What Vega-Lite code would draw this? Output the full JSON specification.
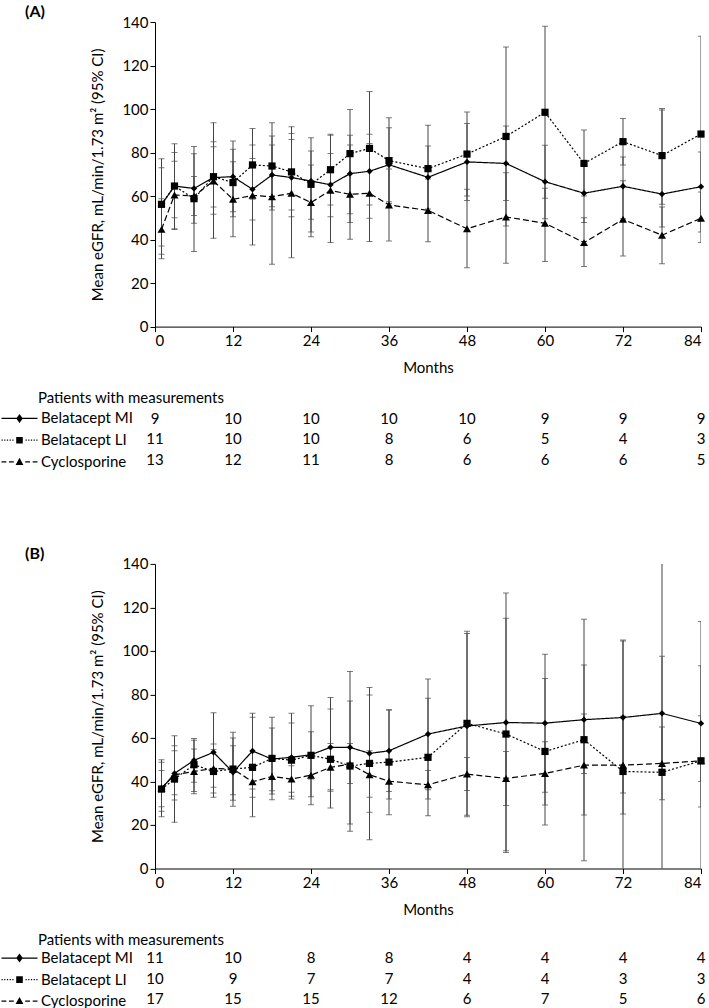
{
  "$schema": "https://vega.github.io/schema/vega-lite/v6.json",
  "autosize": {"type": "pad"},
  "padding": {"left": 12, "top": 4, "right": 0, "bottom": 0},
  "background": "white",
  "config": {
    "view": {"stroke": null},
    "font": "Lato",
    "axis": {"labelFont": "Lato", "titleFont": "Lato", "labelFontSize": 15, "titleFontSize": 15, "labelColor": "black", "titleColor": "black", "domainColor": "black", "tickColor": "black", "grid": false, "titleFontWeight": "normal", "tickSize": 5, "labelPadding": 2},
    "title": {"font": "Lato", "color": "black"},
    "legend": {"symbolFillColor": "black", "symbolStrokeColor": "black", "symbolStrokeWidth": 0, "symbolOpacity": 1}
  },
  "datasets": {
    "eg": [
      {"panel":"A","series":"Belatacept MI","month":1,"mean":56.0,"lo":33.2,"hi":73.0},
      {"panel":"A","series":"Belatacept LI","month":1,"mean":56.2,"lo":37.1,"hi":77.2},
      {"panel":"A","series":"Cyclosporine","month":1,"mean":44.7,"lo":31.2,"hi":58.8},
      {"panel":"A","series":"Belatacept MI","month":3,"mean":64.6,"lo":44.6,"hi":80.0},
      {"panel":"A","series":"Belatacept LI","month":3,"mean":64.6,"lo":45.0,"hi":84.0},
      {"panel":"A","series":"Cyclosporine","month":3,"mean":60.5,"lo":50.0,"hi":76.0},
      {"panel":"A","series":"Belatacept MI","month":6,"mean":63.5,"lo":47.5,"hi":79.5},
      {"panel":"A","series":"Belatacept LI","month":6,"mean":58.8,"lo":34.5,"hi":82.8},
      {"panel":"A","series":"Cyclosporine","month":6,"mean":60.0,"lo":51.1,"hi":69.0},
      {"panel":"A","series":"Belatacept MI","month":9,"mean":68.5,"lo":40.6,"hi":93.7},
      {"panel":"A","series":"Belatacept LI","month":9,"mean":68.9,"lo":51.6,"hi":85.0},
      {"panel":"A","series":"Cyclosporine","month":9,"mean":66.9,"lo":55.0,"hi":82.7},
      {"panel":"A","series":"Belatacept MI","month":12,"mean":68.9,"lo":52.8,"hi":85.3},
      {"panel":"A","series":"Belatacept LI","month":12,"mean":66.2,"lo":50.5,"hi":81.5},
      {"panel":"A","series":"Cyclosporine","month":12,"mean":58.5,"lo":41.3,"hi":75.8},
      {"panel":"A","series":"Belatacept MI","month":15,"mean":63.1,"lo":37.5,"hi":91.0},
      {"panel":"A","series":"Belatacept LI","month":15,"mean":74.3,"lo":58.5,"hi":83.5},
      {"panel":"A","series":"Cyclosporine","month":15,"mean":60.3,"lo":49.0,"hi":77.3},
      {"panel":"A","series":"Belatacept MI","month":18,"mean":69.7,"lo":53.6,"hi":87.6},
      {"panel":"A","series":"Belatacept LI","month":18,"mean":73.8,"lo":55.1,"hi":93.7},
      {"panel":"A","series":"Cyclosporine","month":18,"mean":59.7,"lo":28.6,"hi":83.5},
      {"panel":"A","series":"Belatacept MI","month":21,"mean":68.5,"lo":50.5,"hi":91.9},
      {"panel":"A","series":"Belatacept LI","month":21,"mean":71.1,"lo":53.6,"hi":88.7},
      {"panel":"A","series":"Cyclosporine","month":21,"mean":61.3,"lo":31.7,"hi":86.0},
      {"panel":"A","series":"Belatacept MI","month":24,"mean":66.9,"lo":43.5,"hi":86.8},
      {"panel":"A","series":"Belatacept LI","month":24,"mean":65.4,"lo":49.3,"hi":80.7},
      {"panel":"A","series":"Cyclosporine","month":24,"mean":57.0,"lo":41.3,"hi":74.3},
      {"panel":"A","series":"Belatacept MI","month":27,"mean":65.2,"lo":38.6,"hi":87.9},
      {"panel":"A","series":"Belatacept LI","month":27,"mean":72.1,"lo":55.9,"hi":88.4},
      {"panel":"A","series":"Cyclosporine","month":27,"mean":62.6,"lo":50.5,"hi":79.6},
      {"panel":"A","series":"Belatacept MI","month":30,"mean":70.3,"lo":51.9,"hi":87.9},
      {"panel":"A","series":"Belatacept LI","month":30,"mean":79.5,"lo":47.8,"hi":99.8},
      {"panel":"A","series":"Cyclosporine","month":30,"mean":60.8,"lo":40.1,"hi":83.5},
      {"panel":"A","series":"Belatacept MI","month":33,"mean":71.4,"lo":49.8,"hi":88.4},
      {"panel":"A","series":"Belatacept LI","month":33,"mean":81.9,"lo":55.9,"hi":108.0},
      {"panel":"A","series":"Cyclosporine","month":33,"mean":61.3,"lo":39.1,"hi":84.2},
      {"panel":"A","series":"Belatacept MI","month":36,"mean":74.4,"lo":57.4,"hi":91.4},
      {"panel":"A","series":"Belatacept LI","month":36,"mean":76.3,"lo":56.6,"hi":96.0},
      {"panel":"A","series":"Cyclosporine","month":36,"mean":55.9,"lo":39.4,"hi":72.4},
      {"panel":"A","series":"Belatacept MI","month":42,"mean":68.6,"lo":54.0,"hi":83.0},
      {"panel":"A","series":"Belatacept LI","month":42,"mean":72.6,"lo":52.6,"hi":92.6},
      {"panel":"A","series":"Cyclosporine","month":42,"mean":53.4,"lo":39.0,"hi":67.8},
      {"panel":"A","series":"Belatacept MI","month":48,"mean":75.7,"lo":58.0,"hi":93.4},
      {"panel":"A","series":"Belatacept LI","month":48,"mean":79.3,"lo":60.0,"hi":98.6},
      {"panel":"A","series":"Cyclosporine","month":48,"mean":45.0,"lo":27.1,"hi":63.1},
      {"panel":"A","series":"Belatacept MI","month":54,"mean":75.0,"lo":58.0,"hi":92.2},
      {"panel":"A","series":"Belatacept LI","month":54,"mean":87.4,"lo":46.2,"hi":128.5},
      {"panel":"A","series":"Cyclosporine","month":54,"mean":50.4,"lo":29.1,"hi":70.7},
      {"panel":"A","series":"Belatacept MI","month":60,"mean":66.6,"lo":49.6,"hi":83.3},
      {"panel":"A","series":"Belatacept LI","month":60,"mean":98.5,"lo":59.0,"hi":138.0},
      {"panel":"A","series":"Cyclosporine","month":60,"mean":47.5,"lo":29.9,"hi":63.6},
      {"panel":"A","series":"Belatacept MI","month":66,"mean":61.3,"lo":47.8,"hi":74.8},
      {"panel":"A","series":"Belatacept LI","month":66,"mean":75.0,"lo":60.0,"hi":90.4},
      {"panel":"A","series":"Cyclosporine","month":66,"mean":38.6,"lo":27.6,"hi":50.0},
      {"panel":"A","series":"Belatacept MI","month":72,"mean":64.5,"lo":49.6,"hi":78.0},
      {"panel":"A","series":"Belatacept LI","month":72,"mean":85.0,"lo":74.3,"hi":95.6},
      {"panel":"A","series":"Cyclosporine","month":72,"mean":49.3,"lo":32.5,"hi":67.0},
      {"panel":"A","series":"Belatacept MI","month":78,"mean":60.9,"lo":45.8,"hi":99.5},
      {"panel":"A","series":"Belatacept LI","month":78,"mean":78.6,"lo":56.2,"hi":100.3},
      {"panel":"A","series":"Cyclosporine","month":78,"mean":42.0,"lo":28.9,"hi":55.0},
      {"panel":"A","series":"Belatacept MI","month":84,"mean":64.3,"lo":48.4,"hi":80.2},
      {"panel":"A","series":"Belatacept LI","month":84,"mean":88.5,"lo":43.5,"hi":133.5},
      {"panel":"A","series":"Cyclosporine","month":84,"mean":49.8,"lo":38.7,"hi":61.9},

      {"panel":"B","series":"Belatacept MI","month":1,"mean":36.5,"lo":23.8,"hi":50.0},
      {"panel":"B","series":"Belatacept LI","month":1,"mean":36.5,"lo":26.3,"hi":48.8},
      {"panel":"B","series":"Cyclosporine","month":1,"mean":37.0,"lo":28.4,"hi":45.0},
      {"panel":"B","series":"Belatacept MI","month":3,"mean":43.7,"lo":31.5,"hi":56.4},
      {"panel":"B","series":"Belatacept LI","month":3,"mean":41.1,"lo":21.2,"hi":61.0},
      {"panel":"B","series":"Cyclosporine","month":3,"mean":43.0,"lo":33.9,"hi":54.1},
      {"panel":"B","series":"Belatacept MI","month":6,"mean":49.7,"lo":39.6,"hi":59.8},
      {"panel":"B","series":"Belatacept LI","month":6,"mean":47.7,"lo":35.4,"hi":59.0},
      {"panel":"B","series":"Cyclosporine","month":6,"mean":44.6,"lo":34.3,"hi":54.9},
      {"panel":"B","series":"Belatacept MI","month":9,"mean":53.4,"lo":34.7,"hi":71.6},
      {"panel":"B","series":"Belatacept LI","month":9,"mean":44.6,"lo":32.7,"hi":57.2},
      {"panel":"B","series":"Cyclosporine","month":9,"mean":46.0,"lo":37.3,"hi":54.7},
      {"panel":"B","series":"Belatacept MI","month":12,"mean":44.2,"lo":33.9,"hi":56.4},
      {"panel":"B","series":"Belatacept LI","month":12,"mean":45.7,"lo":28.6,"hi":62.6},
      {"panel":"B","series":"Cyclosporine","month":12,"mean":45.7,"lo":31.4,"hi":60.0},
      {"panel":"B","series":"Belatacept MI","month":15,"mean":54.0,"lo":36.5,"hi":71.3},
      {"panel":"B","series":"Belatacept LI","month":15,"mean":46.5,"lo":23.8,"hi":69.5},
      {"panel":"B","series":"Cyclosporine","month":15,"mean":39.9,"lo":32.7,"hi":47.1},
      {"panel":"B","series":"Belatacept MI","month":18,"mean":50.3,"lo":31.6,"hi":69.5},
      {"panel":"B","series":"Belatacept LI","month":18,"mean":50.6,"lo":35.7,"hi":64.6},
      {"panel":"B","series":"Cyclosporine","month":18,"mean":42.3,"lo":34.2,"hi":50.4},
      {"panel":"B","series":"Belatacept MI","month":21,"mean":51.1,"lo":31.9,"hi":71.3},
      {"panel":"B","series":"Belatacept LI","month":21,"mean":49.8,"lo":33.2,"hi":66.9},
      {"panel":"B","series":"Cyclosporine","month":21,"mean":41.1,"lo":35.0,"hi":47.2},
      {"panel":"B","series":"Belatacept MI","month":24,"mean":52.3,"lo":29.3,"hi":74.8},
      {"panel":"B","series":"Belatacept LI","month":24,"mean":52.0,"lo":41.1,"hi":62.9},
      {"panel":"B","series":"Cyclosporine","month":24,"mean":42.9,"lo":33.0,"hi":52.8},
      {"panel":"B","series":"Belatacept MI","month":27,"mean":55.7,"lo":36.2,"hi":78.6},
      {"panel":"B","series":"Belatacept LI","month":27,"mean":50.2,"lo":27.8,"hi":73.3},
      {"panel":"B","series":"Cyclosporine","month":27,"mean":46.5,"lo":35.5,"hi":57.5},
      {"panel":"B","series":"Belatacept MI","month":30,"mean":55.7,"lo":20.4,"hi":90.6},
      {"panel":"B","series":"Belatacept LI","month":30,"mean":47.1,"lo":17.1,"hi":77.0},
      {"panel":"B","series":"Cyclosporine","month":30,"mean":48.0,"lo":39.1,"hi":57.5},
      {"panel":"B","series":"Belatacept MI","month":33,"mean":52.9,"lo":25.8,"hi":79.7},
      {"panel":"B","series":"Belatacept LI","month":33,"mean":48.3,"lo":13.2,"hi":83.2},
      {"panel":"B","series":"Cyclosporine","month":33,"mean":43.1,"lo":32.7,"hi":54.1},
      {"panel":"B","series":"Belatacept MI","month":36,"mean":54.1,"lo":35.4,"hi":72.8},
      {"panel":"B","series":"Belatacept LI","month":36,"mean":48.9,"lo":24.7,"hi":73.0},
      {"panel":"B","series":"Cyclosporine","month":36,"mean":40.1,"lo":32.0,"hi":48.2},
      {"panel":"B","series":"Belatacept MI","month":42,"mean":61.8,"lo":36.2,"hi":87.1},
      {"panel":"B","series":"Belatacept LI","month":42,"mean":51.1,"lo":24.2,"hi":78.2},
      {"panel":"B","series":"Cyclosporine","month":42,"mean":38.5,"lo":32.0,"hi":45.0},
      {"panel":"B","series":"Belatacept MI","month":48,"mean":65.5,"lo":23.8,"hi":108.0},
      {"panel":"B","series":"Belatacept LI","month":48,"mean":66.7,"lo":24.5,"hi":109.0},
      {"panel":"B","series":"Cyclosporine","month":48,"mean":43.4,"lo":35.8,"hi":51.0},
      {"panel":"B","series":"Belatacept MI","month":54,"mean":67.1,"lo":7.3,"hi":126.6},
      {"panel":"B","series":"Belatacept LI","month":54,"mean":61.8,"lo":8.2,"hi":115.0},
      {"panel":"B","series":"Cyclosporine","month":54,"mean":41.4,"lo":28.9,"hi":53.8},
      {"panel":"B","series":"Belatacept MI","month":60,"mean":66.8,"lo":35.0,"hi":98.5},
      {"panel":"B","series":"Belatacept LI","month":60,"mean":53.8,"lo":20.0,"hi":87.3},
      {"panel":"B","series":"Cyclosporine","month":60,"mean":43.7,"lo":29.2,"hi":58.2},
      {"panel":"B","series":"Belatacept MI","month":66,"mean":68.4,"lo":43.7,"hi":93.5},
      {"panel":"B","series":"Belatacept LI","month":66,"mean":59.2,"lo":3.6,"hi":114.6},
      {"panel":"B","series":"Cyclosporine","month":66,"mean":47.5,"lo":24.6,"hi":71.0},
      {"panel":"B","series":"Belatacept MI","month":72,"mean":69.4,"lo":34.7,"hi":104.6},
      {"panel":"B","series":"Belatacept LI","month":72,"mean":44.6,"lo":-15.0,"hi":105.0},
      {"panel":"B","series":"Cyclosporine","month":72,"mean":47.5,"lo":25.0,"hi":70.0},
      {"panel":"B","series":"Belatacept MI","month":78,"mean":71.3,"lo":45.1,"hi":97.5},
      {"panel":"B","series":"Belatacept LI","month":78,"mean":44.2,"lo":-52.0,"hi":141.0},
      {"panel":"B","series":"Cyclosporine","month":78,"mean":48.3,"lo":31.6,"hi":65.0},
      {"panel":"B","series":"Belatacept MI","month":84,"mean":66.7,"lo":40.0,"hi":93.2},
      {"panel":"B","series":"Belatacept LI","month":84,"mean":49.5,"lo":-14.5,"hi":113.5},
      {"panel":"B","series":"Cyclosporine","month":84,"mean":49.5,"lo":28.3,"hi":70.2}
    ],
    "n": [
      {"panel":"A","series":"Belatacept MI","month":0,"n":9},{"panel":"A","series":"Belatacept MI","month":12,"n":10},{"panel":"A","series":"Belatacept MI","month":24,"n":10},{"panel":"A","series":"Belatacept MI","month":36,"n":10},{"panel":"A","series":"Belatacept MI","month":48,"n":10},{"panel":"A","series":"Belatacept MI","month":60,"n":9},{"panel":"A","series":"Belatacept MI","month":72,"n":9},{"panel":"A","series":"Belatacept MI","month":84,"n":9},
      {"panel":"A","series":"Belatacept LI","month":0,"n":11},{"panel":"A","series":"Belatacept LI","month":12,"n":10},{"panel":"A","series":"Belatacept LI","month":24,"n":10},{"panel":"A","series":"Belatacept LI","month":36,"n":8},{"panel":"A","series":"Belatacept LI","month":48,"n":6},{"panel":"A","series":"Belatacept LI","month":60,"n":5},{"panel":"A","series":"Belatacept LI","month":72,"n":4},{"panel":"A","series":"Belatacept LI","month":84,"n":3},
      {"panel":"A","series":"Cyclosporine","month":0,"n":13},{"panel":"A","series":"Cyclosporine","month":12,"n":12},{"panel":"A","series":"Cyclosporine","month":24,"n":11},{"panel":"A","series":"Cyclosporine","month":36,"n":8},{"panel":"A","series":"Cyclosporine","month":48,"n":6},{"panel":"A","series":"Cyclosporine","month":60,"n":6},{"panel":"A","series":"Cyclosporine","month":72,"n":6},{"panel":"A","series":"Cyclosporine","month":84,"n":5},
      {"panel":"B","series":"Belatacept MI","month":0,"n":11},{"panel":"B","series":"Belatacept MI","month":12,"n":10},{"panel":"B","series":"Belatacept MI","month":24,"n":8},{"panel":"B","series":"Belatacept MI","month":36,"n":8},{"panel":"B","series":"Belatacept MI","month":48,"n":4},{"panel":"B","series":"Belatacept MI","month":60,"n":4},{"panel":"B","series":"Belatacept MI","month":72,"n":4},{"panel":"B","series":"Belatacept MI","month":84,"n":4},
      {"panel":"B","series":"Belatacept LI","month":0,"n":10},{"panel":"B","series":"Belatacept LI","month":12,"n":9},{"panel":"B","series":"Belatacept LI","month":24,"n":7},{"panel":"B","series":"Belatacept LI","month":36,"n":7},{"panel":"B","series":"Belatacept LI","month":48,"n":4},{"panel":"B","series":"Belatacept LI","month":60,"n":4},{"panel":"B","series":"Belatacept LI","month":72,"n":3},{"panel":"B","series":"Belatacept LI","month":84,"n":3},
      {"panel":"B","series":"Cyclosporine","month":0,"n":17},{"panel":"B","series":"Cyclosporine","month":12,"n":15},{"panel":"B","series":"Cyclosporine","month":24,"n":15},{"panel":"B","series":"Cyclosporine","month":36,"n":12},{"panel":"B","series":"Cyclosporine","month":48,"n":6},{"panel":"B","series":"Cyclosporine","month":60,"n":7},{"panel":"B","series":"Cyclosporine","month":72,"n":5},{"panel":"B","series":"Cyclosporine","month":84,"n":6}
    ]
  },
  "bounds": "flush",
  "spacing": 78.95,
  "resolve": {"scale": {"x": "independent", "y": "independent", "shape": "independent", "strokeDash": "independent", "size": "independent"}, "legend": {"shape": "independent", "strokeDash": "independent"}},
  "vconcat": [
    {
      "title": {"text": "(A)", "anchor": "start", "frame": "group", "dx": -130, "fontSize": 16, "fontWeight": "bold", "offset": -5},
      "width": 546, "height": 304.6,
      "data": {"name": "eg"},
      "transform": [{"filter": "datum.panel == 'A'"}],
      "encoding": {"x": {"field": "month", "type": "quantitative", "scale": {"domain": [0, 84], "nice": false}, "axis": {"values": [0,12,24,36,48,60,72,84], "title": "Months", "titlePadding": 12}}},
      "layer": [
        {"mark": {"type": "rule", "clip": true, "color": "#444444", "strokeWidth": 1},
         "encoding": {"y": {"field": "lo", "type": "quantitative", "scale": {"domain": [0, 140], "nice": false}, "axis": {"values": [0,20,40,60,80,100,120,140], "title": "Mean eGFR, mL/min/1.73 m² (95% CI)", "titlePadding": 16}}, "y2": {"field": "hi"}}},
        {"mark": {"type": "tick", "clip": true, "orient": "horizontal", "size": 6, "thickness": 1, "color": "#444444"},
         "encoding": {"y": {"field": "lo", "type": "quantitative"}}},
        {"mark": {"type": "tick", "clip": true, "orient": "horizontal", "size": 6, "thickness": 1, "color": "#444444"},
         "encoding": {"y": {"field": "hi", "type": "quantitative"}}},
        {"mark": {"type": "line", "color": "black", "strokeWidth": 1.2},
         "encoding": {"y": {"field": "mean", "type": "quantitative"}, "strokeDash": {"field": "series", "type": "nominal", "scale": {"domain": ["Belatacept MI", "Belatacept LI", "Cyclosporine"], "range": [[1, 0], [2, 2], [6, 3]]}, "legend": null}}},
        {"mark": {"type": "point", "filled": true, "color": "black", "opacity": 1},
         "encoding": {"y": {"field": "mean", "type": "quantitative"}, "shape": {"field": "series", "type": "nominal", "scale": {"domain": ["Belatacept MI", "Belatacept LI", "Cyclosporine"], "range": ["diamond", "square", "triangle-up"]}, "legend": null}, "size": {"field": "series", "type": "nominal", "scale": {"domain": ["Belatacept MI", "Belatacept LI", "Cyclosporine"], "range": [40, 64, 56]}, "legend": null}}}
      ]
    },
    {
      "title": {"text": "Patients with measurements", "anchor": "start", "frame": "group", "dx": -117, "fontSize": 15, "fontWeight": "normal", "offset": 0},
      "width": 546, "height": 78.1,
      "data": {"name": "n"},
      "transform": [{"filter": "datum.panel == 'A'"}],
      "layer": [
        {"mark": {"type": "text", "fontSize": 15, "color": "black", "font": "Lato"},
         "encoding": {"x": {"field": "month", "type": "quantitative", "scale": {"domain": [0, 84], "nice": false}, "axis": null},
                      "y": {"field": "series", "type": "nominal", "sort": ["Belatacept MI", "Belatacept LI", "Cyclosporine"], "scale": {"type": "band", "paddingInner": 0, "paddingOuter": 0.382, "align": 0.15}, "axis": null},
                      "text": {"field": "n", "type": "quantitative"}}},
        {"mark": {"type": "point", "opacity": 0, "filled": true, "color": "black", "size": 144},
         "encoding": {"y": {"field": "series", "type": "nominal", "sort": ["Belatacept MI", "Belatacept LI", "Cyclosporine"]},
                      "shape": {"field": "series", "type": "nominal", "scale": {"domain": ["Belatacept MI", "Belatacept LI", "Cyclosporine"], "range": [
                        "M-3,-0.1H3V0.1H-3ZM0,-0.75L0.55,0L0,0.75L-0.55,0Z",
                        "M-3,-0.1h0.2v0.2h-0.2ZM-2.55,-0.1h0.2v0.2h-0.2ZM-2.1,-0.1h0.2v0.2h-0.2ZM-1.65,-0.1h0.2v0.2h-0.2ZM-1.2,-0.1h0.2v0.2h-0.2ZM1,-0.1h0.2v0.2h-0.2ZM1.45,-0.1h0.2v0.2h-0.2ZM1.9,-0.1h0.2v0.2h-0.2ZM2.35,-0.1h0.2v0.2h-0.2ZM2.8,-0.1h0.2v0.2h-0.2ZM-0.55,-0.55H0.55V0.55H-0.55Z",
                        "M-3,-0.1H-2.2V0.1H-3ZM-1.75,-0.1H-0.95V0.1H-1.75ZM0.95,-0.1H1.75V0.1H0.95ZM2.2,-0.1H3V0.1H2.2ZM0,-0.7L0.65,0.5H-0.65Z"]},
                                "legend": {"orient": "none", "legendX": -143, "legendY": 5, "title": null, "padding": 0, "labelFont": "Lato", "labelFontSize": 15, "labelColor": "black", "labelOffset": 14, "rowPadding": 5.75, "symbolSize": 144, "symbolFillColor": "black", "symbolStrokeWidth": 0, "symbolOpacity": 1}}}}
      ]
    },
    {
      "title": {"text": "(B)", "anchor": "start", "frame": "group", "dx": -130, "fontSize": 16, "fontWeight": "bold", "offset": -5},
      "width": 546, "height": 304.6,
      "data": {"name": "eg"},
      "transform": [{"filter": "datum.panel == 'B'"}],
      "encoding": {"x": {"field": "month", "type": "quantitative", "scale": {"domain": [0, 84], "nice": false}, "axis": {"values": [0,12,24,36,48,60,72,84], "title": "Months", "titlePadding": 12}}},
      "layer": [
        {"mark": {"type": "rule", "clip": true, "color": "#444444", "strokeWidth": 1},
         "encoding": {"y": {"field": "lo", "type": "quantitative", "scale": {"domain": [0, 140], "nice": false}, "axis": {"values": [0,20,40,60,80,100,120,140], "title": "Mean eGFR, mL/min/1.73 m² (95% CI)", "titlePadding": 16}}, "y2": {"field": "hi"}}},
        {"mark": {"type": "tick", "clip": true, "orient": "horizontal", "size": 6, "thickness": 1, "color": "#444444"},
         "encoding": {"y": {"field": "lo", "type": "quantitative"}}},
        {"mark": {"type": "tick", "clip": true, "orient": "horizontal", "size": 6, "thickness": 1, "color": "#444444"},
         "encoding": {"y": {"field": "hi", "type": "quantitative"}}},
        {"mark": {"type": "line", "color": "black", "strokeWidth": 1.2},
         "encoding": {"y": {"field": "mean", "type": "quantitative"}, "strokeDash": {"field": "series", "type": "nominal", "scale": {"domain": ["Belatacept MI", "Belatacept LI", "Cyclosporine"], "range": [[1, 0], [2, 2], [6, 3]]}, "legend": null}}},
        {"mark": {"type": "point", "filled": true, "color": "black", "opacity": 1},
         "encoding": {"y": {"field": "mean", "type": "quantitative"}, "shape": {"field": "series", "type": "nominal", "scale": {"domain": ["Belatacept MI", "Belatacept LI", "Cyclosporine"], "range": ["diamond", "square", "triangle-up"]}, "legend": null}, "size": {"field": "series", "type": "nominal", "scale": {"domain": ["Belatacept MI", "Belatacept LI", "Cyclosporine"], "range": [40, 64, 56]}, "legend": null}}}
      ]
    },
    {
      "title": {"text": "Patients with measurements", "anchor": "start", "frame": "group", "dx": -117, "fontSize": 15, "fontWeight": "normal", "offset": 0},
      "width": 546, "height": 78.1,
      "data": {"name": "n"},
      "transform": [{"filter": "datum.panel == 'B'"}],
      "layer": [
        {"mark": {"type": "text", "fontSize": 15, "color": "black", "font": "Lato"},
         "encoding": {"x": {"field": "month", "type": "quantitative", "scale": {"domain": [0, 84], "nice": false}, "axis": null},
                      "y": {"field": "series", "type": "nominal", "sort": ["Belatacept MI", "Belatacept LI", "Cyclosporine"], "scale": {"type": "band", "paddingInner": 0, "paddingOuter": 0.405, "align": 0}, "axis": null},
                      "text": {"field": "n", "type": "quantitative"}}},
        {"mark": {"type": "point", "opacity": 0, "filled": true, "color": "black", "size": 144},
         "encoding": {"y": {"field": "series", "type": "nominal", "sort": ["Belatacept MI", "Belatacept LI", "Cyclosporine"]},
                      "shape": {"field": "series", "type": "nominal", "scale": {"domain": ["Belatacept MI", "Belatacept LI", "Cyclosporine"], "range": [
                        "M-3,-0.1H3V0.1H-3ZM0,-0.75L0.55,0L0,0.75L-0.55,0Z",
                        "M-3,-0.1h0.2v0.2h-0.2ZM-2.55,-0.1h0.2v0.2h-0.2ZM-2.1,-0.1h0.2v0.2h-0.2ZM-1.65,-0.1h0.2v0.2h-0.2ZM-1.2,-0.1h0.2v0.2h-0.2ZM1,-0.1h0.2v0.2h-0.2ZM1.45,-0.1h0.2v0.2h-0.2ZM1.9,-0.1h0.2v0.2h-0.2ZM2.35,-0.1h0.2v0.2h-0.2ZM2.8,-0.1h0.2v0.2h-0.2ZM-0.55,-0.55H0.55V0.55H-0.55Z",
                        "M-3,-0.1H-2.2V0.1H-3ZM-1.75,-0.1H-0.95V0.1H-1.75ZM0.95,-0.1H1.75V0.1H0.95ZM2.2,-0.1H3V0.1H2.2ZM0,-0.7L0.65,0.5H-0.65Z"]},
                                "legend": {"orient": "none", "legendX": -143, "legendY": 2.75, "title": null, "padding": 0, "labelFont": "Lato", "labelFontSize": 15, "labelColor": "black", "labelOffset": 14, "rowPadding": 5.5, "symbolSize": 144, "symbolFillColor": "black", "symbolStrokeWidth": 0, "symbolOpacity": 1}}}}
      ]
    }
  ]
}
